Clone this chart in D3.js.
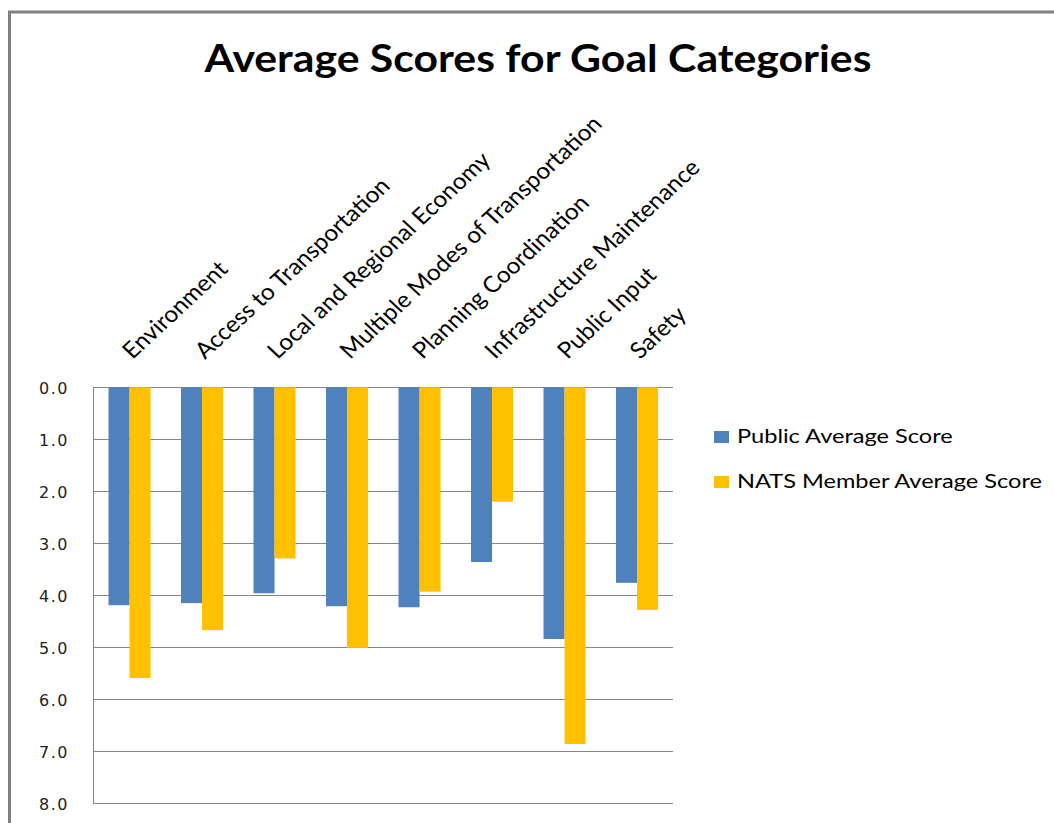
<!DOCTYPE html>
<meta charset="utf-8" />
<title>Average Scores for Goal Categories</title>
<style>
  body { margin: 0; background: #fff; }
  .grid line { stroke: #868686; stroke-width: 1px; shape-rendering: crispEdges; }
  .ylab text { font: 16px "DejaVu Sans", sans-serif; fill: #222; letter-spacing: 1.5px; }
  .cat { font: 22.6px Lato, sans-serif; fill: #000; }
  .legend text { font: 19.5px Lato, sans-serif; fill: #000; }
  .title { font: bold 38px Lato, sans-serif; fill: #000; }
</style>
<body>
  <script src="https://d3js.org/d3.v7.min.js"></script>
  <script>
    var categories = [
      "Environment",
      "Access to Transportation",
      "Local and Regional Economy",
      "Multiple Modes of Transportation",
      "Planning Coordination",
      "Infrastructure Maintenance",
      "Public Input",
      "Safety"
    ];
    var seriesNames = ["Public Average Score", "NATS Member Average Score"];
    var publicScores = [4.19, 4.15, 3.96, 4.21, 4.23, 3.36, 4.84, 3.76];
    var natsScores = [5.59, 4.67, 3.29, 5.01, 3.93, 2.20, 6.86, 4.28];
    var yTicks = [0, 1, 2, 3, 4, 5, 6, 7, 8];
    var colors = ["#4F81BD", "#FFC000"];

    var width = 1054, height = 823;
    var plot = { left: 93.3, right: 673.3, top: 387.3, bottom: 803.3 };

    var svg = d3.select("body").append("svg")
      .attr("width", width)
      .attr("height", height);

    // outer chart frame (only top/left edges are visible)
    svg.append("rect")
      .attr("x", 9.5).attr("y", 12)
      .attr("width", 1200).attr("height", 1000)
      .attr("fill", "none")
      .attr("stroke", "#808080")
      .attr("stroke-width", 3);

    var x0 = d3.scaleBand()
      .domain(categories)
      .range([plot.left, plot.right])
      .paddingInner(0.42)
      .paddingOuter(0.21);

    var x1 = d3.scaleBand()
      .domain(seriesNames)
      .range([0, x0.bandwidth()]);

    var y = d3.scaleLinear()
      .domain([0, 8])
      .range([plot.top, plot.bottom]);

    // gridlines
    svg.append("g")
      .attr("class", "grid")
      .selectAll("line")
      .data(yTicks)
      .join("line")
      .attr("x1", plot.left)
      .attr("x2", plot.right)
      .attr("y1", function (d) { return Math.round(y(d)) + 0.5; })
      .attr("y2", function (d) { return Math.round(y(d)) + 0.5; });

    // left axis line
    svg.append("g").attr("class", "grid")
      .append("line")
      .attr("x1", Math.round(plot.left) + 0.5)
      .attr("x2", Math.round(plot.left) + 0.5)
      .attr("y1", plot.top)
      .attr("y2", plot.bottom);

    // y labels
    var yAxis = d3.axisLeft(y)
      .tickValues(yTicks)
      .tickFormat(d3.format(".1f"))
      .tickSize(0)
      .tickPadding(0);

    svg.append("g")
      .attr("class", "ylab")
      .attr("transform", "translate(69,0)")
      .call(yAxis)
      .call(function (g) { g.select(".domain").remove(); })
      .selectAll("text")
      .attr("dy", "0.36em");

    // bars
    var rows = categories.map(function (c, i) {
      return { cat: c, values: [publicScores[i], natsScores[i]] };
    });

    var groups = svg.append("g")
      .selectAll("g")
      .data(rows)
      .join("g")
      .attr("transform", function (d) { return "translate(" + x0(d.cat) + ",0)"; });

    groups.selectAll("rect")
      .data(function (d) {
        return d.values.map(function (v, j) { return { key: seriesNames[j], value: v, j: j }; });
      })
      .join("rect")
      .attr("x", function (d) { return x1(d.key); })
      .attr("width", x1.bandwidth())
      .attr("y", y(0))
      .attr("height", function (d) { return y(d.value) - y(0); })
      .attr("fill", function (d) { return colors[d.j]; });

    // category labels, rotated (source picture is slightly stretched sideways)
    svg.append("g")
      .selectAll("text")
      .data(categories)
      .join("text")
      .attr("class", "cat")
      .attr("transform", function (d) {
        return "translate(" + (x0(d) + x0.bandwidth() / 2 + 3) + ",360) scale(1.08,1) rotate(-45)";
      })
      .text(function (d) { return d; });

    // legend
    var legend = svg.append("g")
      .attr("class", "legend")
      .selectAll("g")
      .data(seriesNames)
      .join("g")
      .attr("transform", function (d, i) { return "translate(714," + (431 + i * 45) + ")"; });

    legend.append("rect")
      .attr("width", 15)
      .attr("height", 12)
      .attr("fill", function (d, i) { return colors[i]; });

    legend.append("text")
      .attr("transform", "translate(23,12) scale(1.21,1)")
      .text(function (d) { return d; });

    // title
    svg.append("text")
      .attr("class", "title")
      .attr("transform", "translate(538,72) scale(1.125,1)")
      .attr("text-anchor", "middle")
      .text("Average Scores for Goal Categories");
  </script>
</body>
